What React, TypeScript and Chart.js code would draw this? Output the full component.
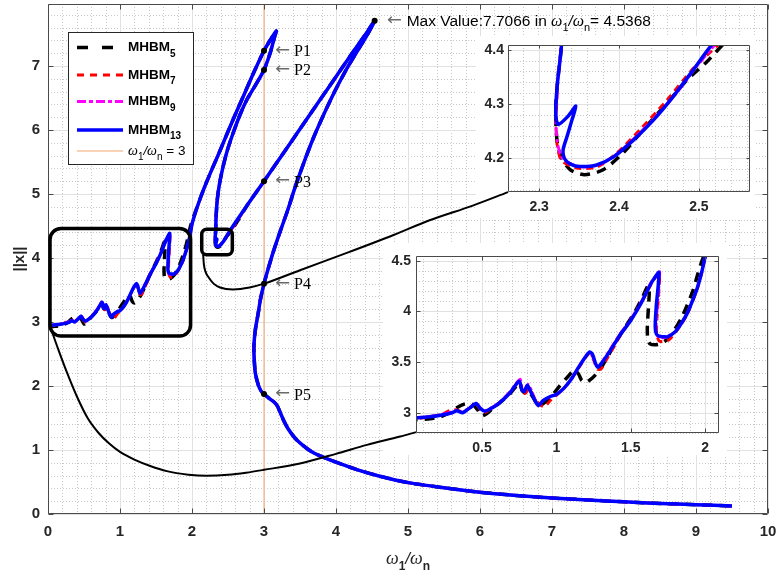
import React, { useEffect, useRef } from 'react';
import { Chart, registerables } from 'chart.js';

Chart.register(...registerables);

type Pt = [number, number];

const SANS = '"Liberation Sans", Arial, Helvetica, sans-serif';
const SERIF = '"Liberation Serif", "DejaVu Serif", "Times New Roman", serif';
const ARROW_FONT = '16px "DejaVu Sans", sans-serif';
const AXIS_TEXT = '#262626';

// ---------------- axes ----------------
const mainXLimits: Pt = [0, 10];
const mainYLimits: Pt = [0, 7.97];
const mainXTicks = [0, 1, 2, 3, 4, 5, 6, 7, 8, 9, 10];
const mainYTicks = [0, 1, 2, 3, 4, 5, 6, 7];

const lowInsetXLimits: Pt = [0.056, 2.094];
const lowInsetYLimits: Pt = [2.8, 4.546];
const lowInsetXTicks = [0.5, 1, 1.5, 2];
const lowInsetYTicks = [3, 3.5, 4, 4.5];

const upInsetXLimits: Pt = [2.261, 2.564];
const upInsetYLimits: Pt = [4.137, 4.409];
const upInsetXTicks = [2.3, 2.4, 2.5];
const upInsetYTicks = [4.2, 4.3, 4.4];

// ---------------- series ----------------
const mhbm5Wavy: Pt[] = [
  [0, 2.92], [0.06, 2.93], [0.15, 2.94], [0.22, 2.96], [0.28, 3.0], [0.33, 3.05], [0.38, 3.085],
  [0.43, 3.09], [0.47, 3.03], [0.5, 2.97], [0.53, 2.99], [0.57, 3.04], [0.62, 3.1], [0.69, 3.19],
  [0.75, 3.29], [0.77, 3.22], [0.79, 3.2], [0.81, 3.22], [0.84, 3.16], [0.87, 3.09], [0.89, 3.07],
  [0.92, 3.1], [0.96, 3.15], [1.02, 3.26], [1.08, 3.36], [1.12, 3.42], [1.15, 3.38], [1.17, 3.32],
  [1.2, 3.3], [1.24, 3.34], [1.29, 3.42], [1.34, 3.54], [1.4, 3.7], [1.47, 3.86], [1.53, 4.0],
  [1.58, 4.14], [1.615, 4.25], [1.625, 4.22], [1.62, 4.05], [1.612, 3.85], [1.615, 3.72],
  [1.63, 3.68], [1.66, 3.67], [1.7, 3.68], [1.75, 3.73], [1.8, 3.83], [1.84, 3.93], [1.88, 4.06],
  [1.92, 4.21], [1.95, 4.36], [1.98, 4.5], [2.02, 4.64], [2.12, 4.95],
];
const mhbm7Wavy: Pt[] = [
  [0, 2.93], [0.06, 2.94], [0.15, 2.96], [0.22, 2.98], [0.28, 3.02], [0.32, 3.03], [0.37, 3.01],
  [0.42, 3.05], [0.46, 3.08], [0.49, 3.03], [0.52, 3.0], [0.57, 3.05], [0.62, 3.1], [0.69, 3.2],
  [0.75, 3.31], [0.77, 3.21], [0.79, 3.19], [0.82, 3.24], [0.85, 3.15], [0.89, 3.08], [0.92, 3.06],
  [0.96, 3.12], [1.0, 3.17], [1.05, 3.24], [1.1, 3.33], [1.15, 3.44], [1.2, 3.55], [1.225, 3.58],
  [1.25, 3.52], [1.275, 3.43], [1.3, 3.43], [1.34, 3.53], [1.38, 3.63], [1.43, 3.76], [1.5, 3.91],
  [1.57, 4.08], [1.635, 4.26], [1.68, 4.36], [1.695, 4.37], [1.69, 4.2], [1.678, 3.95], [1.675, 3.78],
  [1.69, 3.71], [1.72, 3.7], [1.76, 3.72], [1.8, 3.79], [1.84, 3.87], [1.88, 3.97], [1.92, 4.11],
  [1.95, 4.23], [1.98, 4.39], [2.0, 4.52], [2.05, 4.71], [2.12, 4.95],
];
const mhbm9Wavy: Pt[] = [
  [0, 2.93], [0.06, 2.95], [0.15, 2.965], [0.22, 2.98], [0.3, 3.01], [0.33, 3.025], [0.37, 3.005],
  [0.42, 3.055], [0.46, 3.095], [0.49, 3.045], [0.52, 3.02], [0.57, 3.055], [0.62, 3.105], [0.69, 3.21],
  [0.755, 3.33], [0.77, 3.24], [0.785, 3.22], [0.81, 3.28], [0.835, 3.21], [0.86, 3.12], [0.885, 3.08],
  [0.91, 3.12], [0.96, 3.16], [1.0, 3.18], [1.05, 3.24], [1.1, 3.33], [1.15, 3.45], [1.2, 3.56],
  [1.225, 3.59], [1.245, 3.55], [1.265, 3.47], [1.285, 3.45], [1.32, 3.53], [1.365, 3.63], [1.43, 3.78],
  [1.5, 3.92], [1.57, 4.09], [1.635, 4.28], [1.68, 4.37], [1.695, 4.39], [1.69, 4.25], [1.677, 4.0],
  [1.67, 3.82], [1.678, 3.76], [1.695, 3.74], [1.72, 3.74], [1.75, 3.75], [1.8, 3.8], [1.84, 3.88],
  [1.88, 3.98], [1.92, 4.12], [1.95, 4.24], [1.98, 4.4], [2.0, 4.53], [2.05, 4.72], [2.12, 4.95],
];
const mhbm13Wavy: Pt[] = [
  [0, 2.93], [0.06, 2.95], [0.15, 2.96], [0.22, 2.975], [0.3, 3.0], [0.33, 3.02], [0.37, 3.0],
  [0.42, 3.05], [0.46, 3.09], [0.49, 3.04], [0.52, 3.015], [0.57, 3.05], [0.62, 3.1], [0.69, 3.2],
  [0.75, 3.31], [0.77, 3.22], [0.785, 3.21], [0.805, 3.27], [0.83, 3.2], [0.86, 3.11], [0.88, 3.07],
  [0.91, 3.12], [0.96, 3.16], [1.0, 3.18], [1.05, 3.24], [1.1, 3.33], [1.15, 3.45], [1.2, 3.56],
  [1.225, 3.6], [1.245, 3.57], [1.265, 3.48], [1.28, 3.45], [1.32, 3.52], [1.365, 3.62], [1.43, 3.77],
  [1.5, 3.91], [1.57, 4.08], [1.635, 4.27], [1.675, 4.36], [1.69, 4.385], [1.685, 4.25], [1.672, 4.05],
  [1.665, 3.85], [1.672, 3.78], [1.69, 3.755], [1.72, 3.75], [1.75, 3.75], [1.8, 3.8], [1.84, 3.88],
  [1.88, 3.98], [1.92, 4.12], [1.95, 4.24], [1.98, 4.4], [2.0, 4.53], [2.05, 4.72], [2.12, 4.95],
];
// outer branch up to the first tip, then inner branch back down (shared by all orders)
const branchLoop: Pt[] = [
  [2.2, 5.18], [2.29, 5.42], [2.39, 5.68], [2.49, 5.95], [2.6, 6.24], [2.71, 6.52], [2.85, 6.88],
  [3.0, 7.24], [3.1, 7.43], [3.17, 7.55], [3.15, 7.47], [3.09, 7.22], [3.0, 6.94], [2.88, 6.7],
  [2.76, 6.47], [2.66, 6.22], [2.57, 5.95], [2.49, 5.68], [2.43, 5.42], [2.38, 5.15], [2.35, 4.9],
  [2.335, 4.65], [2.328, 4.41],
];
const mhbm5Cusp: Pt[] = [
  [2.323, 4.34], [2.321, 4.3], [2.321, 4.26], [2.323, 4.225], [2.328, 4.2], [2.339, 4.178],
  [2.357, 4.169], [2.38, 4.178], [2.405, 4.209], [2.43, 4.252], [2.46, 4.301], [2.485, 4.344],
  [2.51, 4.378], [2.53, 4.41], [2.6, 4.52],
];
const mhbm7Cusp: Pt[] = [
  [2.323, 4.34], [2.322, 4.3], [2.321, 4.26], [2.323, 4.22], [2.328, 4.195], [2.347, 4.181],
  [2.372, 4.183], [2.397, 4.209], [2.426, 4.252], [2.46, 4.307], [2.493, 4.366], [2.524, 4.409],
  [2.6, 4.53],
];
const mhbm9Cusp: Pt[] = [
  [2.323, 4.34], [2.322, 4.3], [2.321, 4.26], [2.324, 4.22], [2.33, 4.198], [2.349, 4.184],
  [2.372, 4.186], [2.395, 4.204], [2.42, 4.238], [2.447, 4.278], [2.472, 4.32], [2.497, 4.369],
  [2.52, 4.409], [2.6, 4.54],
];
const mhbm13Cusp: Pt[] = [
  [2.323, 4.34], [2.321, 4.3], [2.321, 4.275], [2.324, 4.262], [2.336, 4.277], [2.346, 4.296],
  [2.341, 4.27], [2.335, 4.24], [2.33, 4.215], [2.332, 4.198], [2.34, 4.188], [2.351, 4.184],
  [2.372, 4.187], [2.393, 4.202], [2.418, 4.233], [2.443, 4.27], [2.468, 4.314], [2.493, 4.363],
  [2.516, 4.409], [2.6, 4.55],
];
// rising branch to the maximum, the descending branch and the high-frequency tail (shared)
const branchTail: Pt[] = [
  [2.8, 4.88], [3.0, 5.2], [3.3, 5.69], [3.6, 6.18], [3.9, 6.67], [4.2, 7.16], [4.4, 7.48],
  [4.5368, 7.7066], [4.44, 7.5], [4.3, 7.24], [4.15, 6.96], [3.98, 6.6], [3.82, 6.22], [3.68, 5.86],
  [3.55, 5.48], [3.43, 5.1], [3.33, 4.75], [3.22, 4.4], [3.13, 4.1], [3.06, 3.84], [3.0, 3.6],
  [2.95, 3.35], [2.92, 3.14], [2.88, 2.88], [2.86, 2.62], [2.865, 2.4], [2.88, 2.2], [2.92, 2.02],
  [2.96, 1.92], [3.0, 1.875], [3.08, 1.8], [3.15, 1.74], [3.19, 1.68], [3.22, 1.6], [3.27, 1.47],
  [3.33, 1.34], [3.4, 1.23], [3.47, 1.14], [3.6, 1.02], [3.7, 0.95], [3.82, 0.89], [4.0, 0.81],
  [4.3, 0.69], [4.61, 0.59], [5.0, 0.49], [5.5, 0.41], [6.0, 0.34], [6.5, 0.29], [7.0, 0.25],
  [7.5, 0.22], [8.0, 0.19], [8.5, 0.165], [9.0, 0.145], [9.5, 0.125],
];

const seriesBase = 'MHBM';
const seriesOrders = ['5', '7', '9', '13'];

// ---------------- annotations ----------------
const pointLabels = ['P1', 'P2', 'P3', 'P4', 'P5'];
const pointX = [3, 3, 3, 3, 3];
const pointY = [7.24, 6.94, 5.2, 3.6, 1.875];
const maxX = 4.5368;
const maxY = 7.7066;
const refLineX = 3;

const connectorLow: Pt[] = [
  [0.03, 2.93], [0.14, 2.58], [0.26, 2.22], [0.4, 1.84], [0.55, 1.5], [0.7, 1.27], [0.85, 1.1],
  [1.0, 0.97], [1.2, 0.85], [1.42, 0.75], [1.65, 0.67], [1.95, 0.615], [2.2, 0.597], [2.5, 0.612],
  [2.75, 0.645], [3.0, 0.69], [3.5, 0.79], [4.0, 0.94], [4.43, 1.08], [4.89, 1.21], [5.11, 1.28],
];
const connectorUp: Pt[] = [
  [2.155, 4.05], [2.165, 3.9], [2.19, 3.78], [2.23, 3.7], [2.3, 3.6], [2.39, 3.54], [2.57, 3.51],
  [2.8, 3.54], [3.0, 3.6], [3.5, 3.81], [4.15, 4.08], [4.8, 4.36], [5.3, 4.59], [5.9, 4.82], [6.39, 5.03],
];
const zoomBoxLowX: Pt = [0.028, 1.98];
const zoomBoxLowY: Pt = [2.78, 4.46];
const zoomBoxUpX: Pt = [2.135, 2.56];
const zoomBoxUpY: Pt = [4.05, 4.45];

// ---------------- styles ----------------
const seriesStyles = [
  { color: '#000000', width: 3.5, dash: [10, 7], legendDash: [11, 14] },
  { color: '#ff0000', width: 2.8, dash: [7, 5], legendDash: [7, 6] },
  { color: '#ff00ff', width: 2.8, dash: [9, 3, 3, 3], legendDash: [9, 3, 4, 3] },
  { color: '#0000ff', width: 3.5, dash: [] as number[], legendDash: [] as number[] },
];
const REF_COLOR = 'rgb(244,166,110)';

const seriesPoints: Pt[][] = [
  [...mhbm5Wavy, ...branchLoop, ...mhbm5Cusp, ...branchTail],
  [...mhbm7Wavy, ...branchLoop, ...mhbm7Cusp, ...branchTail],
  [...mhbm9Wavy, ...branchLoop, ...mhbm9Cusp, ...branchTail],
  [...mhbm13Wavy, ...branchLoop, ...mhbm13Cusp, ...branchTail],
];

const toXY = (pts: Pt[]) => pts.map(([x, y]) => ({ x, y }));

function seriesDatasets(): any[] {
  return seriesPoints.map((pts, i) => ({
    label: seriesBase + seriesOrders[i],
    data: toXY(pts),
    showLine: true,
    pointRadius: 0,
    pointHoverRadius: 0,
    borderColor: seriesStyles[i].color,
    backgroundColor: seriesStyles[i].color,
    borderWidth: seriesStyles[i].width,
    borderDash: seriesStyles[i].dash,
    borderCapStyle: 'butt',
    borderJoinStyle: 'round',
    tension: 0.25,
    fill: false,
    clip: 0,
    order: 3 - i,
  }));
}

function scaleCfg(axis: 'x' | 'y', lim: Pt, ticks: number[], size: number, fontSize: number, pad: number, showLabels = true): any {
  return {
    type: 'linear',
    position: axis === 'x' ? 'bottom' : 'left',
    min: lim[0],
    max: lim[1],
    grid: { display: false, drawTicks: false },
    border: { display: false },
    ticks: {
      display: showLabels,
      autoSkip: false,
      maxRotation: 0,
      minRotation: 0,
      padding: pad,
      color: AXIS_TEXT,
      font: { family: SANS, size: fontSize, weight: 'bold' },
      callback: (v: any) => String(v),
    },
    afterBuildTicks: (s: any) => {
      s.ticks = ticks.map((v) => ({ value: v }));
    },
    afterFit: (s: any) => {
      if (axis === 'x') s.height = size;
      else s.width = size;
      s.paddingLeft = 0;
      s.paddingRight = 0;
      s.paddingTop = 0;
      s.paddingBottom = 0;
    },
  };
}

function stepValues(min: number, max: number, step: number): number[] {
  const out: number[] = [];
  const a = Math.ceil(min / step - 1e-9);
  const b = Math.floor(max / step + 1e-9);
  for (let i = a; i <= b; i++) out.push(i * step);
  return out;
}

function axesPlugin(cfg: { xMinor: number; yMinor: number; xMajor: number[]; yMajor: number[]; tickLen: number }): any {
  return {
    id: 'matAxes',
    beforeDraw(chart: any) {
      const { ctx, chartArea: a, scales } = chart;
      const xs = scales.x;
      const ys = scales.y;
      ctx.save();
      ctx.fillStyle = '#ffffff';
      ctx.fillRect(0, 0, chart.width, chart.height);
      const isMajor = (v: number, majors: number[], step: number) => majors.some((m) => Math.abs(m - v) < step * 0.05);
      ctx.strokeStyle = '#c9c9c9';
      ctx.lineWidth = 1;
      ctx.setLineDash([1, 2]);
      ctx.beginPath();
      for (const v of stepValues(xs.min, xs.max, cfg.xMinor)) {
        if (isMajor(v, cfg.xMajor, cfg.xMinor)) continue;
        const p = Math.round(xs.getPixelForValue(v)) + 0.5;
        ctx.moveTo(p, a.top);
        ctx.lineTo(p, a.bottom);
      }
      for (const v of stepValues(ys.min, ys.max, cfg.yMinor)) {
        if (isMajor(v, cfg.yMajor, cfg.yMinor)) continue;
        const p = Math.round(ys.getPixelForValue(v)) + 0.5;
        ctx.moveTo(a.left, p);
        ctx.lineTo(a.right, p);
      }
      ctx.stroke();
      ctx.setLineDash([]);
      ctx.strokeStyle = '#e1e1e1';
      ctx.beginPath();
      for (const v of cfg.xMajor) {
        const p = Math.round(xs.getPixelForValue(v)) + 0.5;
        ctx.moveTo(p, a.top);
        ctx.lineTo(p, a.bottom);
      }
      for (const v of cfg.yMajor) {
        const p = Math.round(ys.getPixelForValue(v)) + 0.5;
        ctx.moveTo(a.left, p);
        ctx.lineTo(a.right, p);
      }
      ctx.stroke();
      ctx.restore();
    },
    afterDatasetsDraw(chart: any) {
      const { ctx, chartArea: a, scales } = chart;
      const xs = scales.x;
      const ys = scales.y;
      const L = Math.round(a.left) + 0.5;
      const R = Math.round(a.right) - 0.5;
      const T = Math.round(a.top) + 0.5;
      const B = Math.round(a.bottom) - 0.5;
      ctx.save();
      ctx.strokeStyle = '#4a4a4a';
      ctx.lineWidth = 1;
      ctx.setLineDash([]);
      ctx.beginPath();
      ctx.rect(L, T, R - L, B - T);
      const t = cfg.tickLen;
      for (const v of cfg.xMajor) {
        const p = Math.round(xs.getPixelForValue(v)) + 0.5;
        ctx.moveTo(p, B);
        ctx.lineTo(p, B - t);
        ctx.moveTo(p, T);
        ctx.lineTo(p, T + t);
      }
      for (const v of cfg.yMajor) {
        const p = Math.round(ys.getPixelForValue(v)) + 0.5;
        ctx.moveTo(L, p);
        ctx.lineTo(L + t, p);
        ctx.moveTo(R, p);
        ctx.lineTo(R - t, p);
      }
      ctx.stroke();
      ctx.restore();
    },
  };
}

type Run = { t: string; font: string; dy?: number; color?: string };

function runsWidth(ctx: CanvasRenderingContext2D, runs: Run[]) {
  let w = 0;
  for (const r of runs) {
    ctx.font = r.font;
    w += ctx.measureText(r.t).width;
  }
  return w;
}

function drawRuns(ctx: CanvasRenderingContext2D, x: number, baseline: number, runs: Run[], color: string) {
  ctx.textAlign = 'left';
  ctx.textBaseline = 'alphabetic';
  let cx = x;
  for (const r of runs) {
    ctx.font = r.font;
    ctx.fillStyle = r.color || color;
    ctx.fillText(r.t, cx, baseline + (r.dy || 0));
    cx += ctx.measureText(r.t).width;
  }
  return cx;
}

const omegaRatioRuns = (size: number, subSize: number, bold: boolean, subDy: number): Run[] => {
  const sub = `${bold ? 'bold ' : ''}${subSize}px ${SANS}`;
  return [
    { t: 'ω', font: `italic ${size}px ${SERIF}` },
    { t: '1', font: sub, dy: subDy },
    { t: '/', font: `italic ${size - 1}px ${SANS}` },
    { t: 'ω', font: `italic ${size}px ${SERIF}` },
    { t: 'n', font: sub, dy: subDy },
  ];
};

// left arrow glyph, stretched horizontally to the long thin TeX arrow of the reference
function drawArrow(ctx: CanvasRenderingContext2D, x: number, y: number) {
  ctx.save();
  ctx.font = ARROW_FONT;
  ctx.fillStyle = '#6a6a6a';
  ctx.textAlign = 'left';
  ctx.textBaseline = 'middle';
  const w = ctx.measureText('←').width || 1;
  ctx.translate(x, y);
  ctx.scale(15 / w, 1);
  ctx.fillText('←', 0, 0);
  ctx.restore();
}

const mainOverlayPlugin: any = {
  id: 'mainOverlay',
  afterDraw(chart: any) {
    const { ctx, scales } = chart;
    const xs = scales.x;
    const ys = scales.y;
    ctx.save();

    for (let i = 0; i < pointLabels.length; i++) {
      const px = xs.getPixelForValue(pointX[i]);
      const py = ys.getPixelForValue(pointY[i]);
      drawArrow(ctx, px + 11, py);
      ctx.font = `16px ${SERIF}`;
      ctx.fillStyle = '#000000';
      ctx.textAlign = 'left';
      ctx.textBaseline = 'alphabetic';
      ctx.fillText(pointLabels[i], px + 30, py + 5.5);
    }
    {
      const px = xs.getPixelForValue(maxX);
      const py = ys.getPixelForValue(maxY);
      drawArrow(ctx, px + 12, py);
      const runs: Run[] = [
        { t: `Max Value:${maxY.toFixed(4)} in `, font: `15.5px ${SANS}` },
        ...omegaRatioRuns(16, 11, false, 5),
        { t: `= ${maxX.toFixed(4)}`, font: `15.5px ${SANS}` },
      ];
      drawRuns(ctx, px + 32, py + 5.5, runs, '#000000');
    }

    // legend
    const lx = 68.5, ly = 32.5, lw = 125, lh = 132;
    ctx.fillStyle = '#ffffff';
    ctx.fillRect(lx, ly, lw, lh);
    ctx.strokeStyle = '#262626';
    ctx.lineWidth = 1;
    ctx.setLineDash([]);
    ctx.strokeRect(lx, ly, lw, lh);
    const rowY = [46, 73.5, 100, 128.5, 150.5];
    for (let i = 0; i < 4; i++) {
      const s = seriesStyles[i];
      ctx.beginPath();
      ctx.strokeStyle = s.color;
      ctx.lineWidth = s.width;
      ctx.lineCap = 'butt';
      ctx.setLineDash(s.legendDash);
      ctx.moveTo(77, rowY[i] + 1.5);
      ctx.lineTo(123, rowY[i] + 1.5);
      ctx.stroke();
      ctx.setLineDash([]);
      drawRuns(ctx, 128, rowY[i] + 5, [
        { t: seriesBase, font: `bold 13.5px ${SANS}` },
        { t: seriesOrders[i], font: `bold 10px ${SANS}`, dy: 5.5 },
      ], '#000000');
    }
    ctx.beginPath();
    ctx.strokeStyle = REF_COLOR;
    ctx.lineWidth = 1;
    ctx.moveTo(77, rowY[4] + 0.5);
    ctx.lineTo(123, rowY[4] + 0.5);
    ctx.stroke();
    drawRuns(ctx, 128, rowY[4] + 4.5, [
      ...omegaRatioRuns(14, 10, false, 5),
      { t: ` = ${refLineX}`, font: `13.5px ${SANS}` },
    ], '#000000');

    // axis titles
    const xRuns = omegaRatioRuns(18, 12, true, 6);
    const w = runsWidth(ctx, xRuns);
    const cx = (chart.chartArea.left + chart.chartArea.right) / 2;
    drawRuns(ctx, cx - w / 2, 564, xRuns, AXIS_TEXT);

    ctx.translate(19.5, (chart.chartArea.top + chart.chartArea.bottom) / 2);
    ctx.rotate(-Math.PI / 2);
    ctx.font = `bold 15px ${SANS}`;
    ctx.fillStyle = AXIS_TEXT;
    ctx.textAlign = 'center';
    ctx.textBaseline = 'middle';
    ctx.fillText('||x||', 0, 0);
    ctx.restore();
  },
};

const zoomBoxPlugin: any = {
  id: 'zoomBoxes',
  afterDatasetsDraw(chart: any) {
    const { ctx, scales } = chart;
    const xs = scales.x;
    const ys = scales.y;
    const boxes: [Pt, Pt, number][] = [
      [zoomBoxLowX, zoomBoxLowY, 11],
      [zoomBoxUpX, zoomBoxUpY, 5],
    ];
    ctx.save();
    ctx.strokeStyle = '#000000';
    ctx.lineWidth = 3.5;
    for (const [bx, by, r] of boxes) {
      const x0 = xs.getPixelForValue(bx[0]);
      const x1 = xs.getPixelForValue(bx[1]);
      const y0 = ys.getPixelForValue(by[1]);
      const y1 = ys.getPixelForValue(by[0]);
      ctx.beginPath();
      ctx.moveTo(x0 + r, y0);
      ctx.lineTo(x1 - r, y0);
      ctx.arcTo(x1, y0, x1, y0 + r, r);
      ctx.lineTo(x1, y1 - r);
      ctx.arcTo(x1, y1, x1 - r, y1, r);
      ctx.lineTo(x0 + r, y1);
      ctx.arcTo(x0, y1, x0, y1 - r, r);
      ctx.lineTo(x0, y0 + r);
      ctx.arcTo(x0, y0, x0 + r, y0, r);
      ctx.closePath();
      ctx.stroke();
    }
    ctx.restore();
  },
};

const baseOptions = (layoutPad: any): any => ({
  responsive: false,
  animation: false,
  events: [],
  layout: { padding: layoutPad },
  plugins: { legend: { display: false }, tooltip: { enabled: false }, title: { display: false } },
});

function mainConfig(): any {
  const datasets: any[] = [
    ...seriesDatasets(),
    {
      label: 'ref',
      data: toXY([[refLineX, mainYLimits[0]], [refLineX, mainYLimits[1]]]),
      showLine: true,
      pointRadius: 0,
      borderColor: REF_COLOR,
      borderWidth: 1,
      order: 10,
    },
    {
      label: 'markers',
      data: toXY([...pointX.map((x, i) => [x, pointY[i]] as Pt), [maxX, maxY]]),
      showLine: false,
      pointRadius: 3,
      pointBackgroundColor: '#000000',
      pointBorderColor: '#000000',
      pointBorderWidth: 0,
      order: -1,
    },
  ];
  return {
    type: 'scatter',
    data: { datasets },
    options: {
      ...baseOptions({ top: 4, right: 10, left: 0, bottom: 0 }),
      scales: {
        x: scaleCfg('x', mainXLimits, mainXTicks, 61, 15, 9),
        y: scaleCfg('y', mainYLimits, mainYTicks, 48, 15, 8),
      },
    },
    plugins: [axesPlugin({ xMinor: 0.2, yMinor: 0.2, xMajor: mainXTicks, yMajor: mainYTicks, tickLen: 5 }), mainOverlayPlugin],
  };
}

function overlayConfig(): any {
  const conn = (pts: Pt[]) => ({
    data: toXY(pts),
    showLine: true,
    pointRadius: 0,
    borderColor: '#000000',
    borderWidth: 2,
    cubicInterpolationMode: 'monotone',
    tension: 0.4,
    clip: false,
  });
  return {
    type: 'scatter',
    data: { datasets: [conn(connectorLow), conn(connectorUp)] },
    options: {
      ...baseOptions({ top: 4, right: 10, left: 0, bottom: 0 }),
      scales: {
        x: scaleCfg('x', mainXLimits, mainXTicks, 61, 15, 9, false),
        y: scaleCfg('y', mainYLimits, mainYTicks, 48, 15, 8, false),
      },
    },
    plugins: [zoomBoxPlugin],
  };
}

function insetConfig(xl: Pt, yl: Pt, xt: number[], yt: number[], yW: number, xH: number, pad: any, yPad: number, minorX: number, minorY: number, tickLen: number): any {
  return {
    type: 'scatter',
    data: { datasets: seriesDatasets() },
    options: {
      ...baseOptions(pad),
      scales: {
        x: scaleCfg('x', xl, xt, xH, 14, 7),
        y: scaleCfg('y', yl, yt, yW, 14, yPad),
      },
    },
    plugins: [axesPlugin({ xMinor: minorX, yMinor: minorY, xMajor: xt, yMajor: yt, tickLen })],
  };
}

export default function App() {
  const mainRef = useRef<HTMLCanvasElement>(null);
  const lowRef = useRef<HTMLCanvasElement>(null);
  const upRef = useRef<HTMLCanvasElement>(null);
  const overRef = useRef<HTMLCanvasElement>(null);

  useEffect(() => {
    const charts: Chart[] = [];
    charts.push(new Chart(mainRef.current as HTMLCanvasElement, mainConfig()));
    charts.push(new Chart(lowRef.current as HTMLCanvasElement,
      insetConfig(lowInsetXLimits, lowInsetYLimits, lowInsetXTicks, lowInsetYTicks, 33, 22,
        { top: 13, right: 8, left: 0, bottom: 0 }, 5, 0.1, 0.1, 4)));
    charts.push(new Chart(upRef.current as HTMLCanvasElement,
      insetConfig(upInsetXLimits, upInsetYLimits, upInsetXTicks, upInsetYTicks, 32, 26,
        { top: 9, right: 5, left: 0, bottom: 0 }, 4, 0.02, 0.02, 3)));
    charts.push(new Chart(overRef.current as HTMLCanvasElement, overlayConfig()));
    return () => charts.forEach((c) => c.destroy());
  }, []);

  const abs = (l: number, t: number): React.CSSProperties => ({ position: 'absolute', left: l, top: t });
  return (
    <div style={{ position: 'absolute', left: 0, top: 0, width: 778, height: 575, background: '#ffffff', overflow: 'hidden' }}>
      <canvas ref={mainRef} width={778} height={575} style={abs(0, 0)} />
      <canvas ref={lowRef} width={344} height={212} style={abs(383, 243)} />
      <canvas ref={upRef} width={279} height={182} style={abs(476, 36)} />
      <canvas ref={overRef} width={778} height={575} style={{ ...abs(0, 0), pointerEvents: 'none' }} />
    </div>
  );
}
